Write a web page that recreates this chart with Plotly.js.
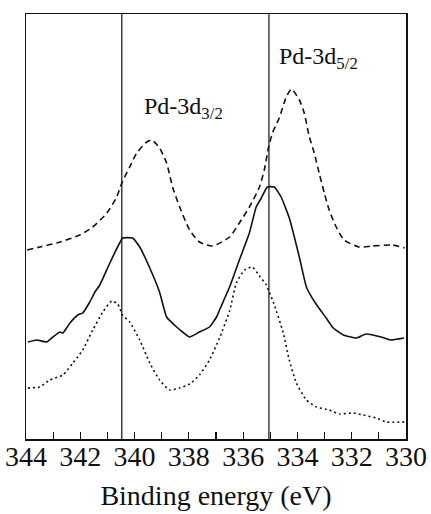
<!DOCTYPE html>
<html>
<head>
<meta charset="utf-8">
<script src="https://cdn.plot.ly/plotly-3.0.1.min.js"></script>
<style>html,body{margin:0;padding:0;background:#fff;}#chart{width:431px;height:514px;}</style>
</head>
<body>
<div id="chart"></div>
<script>
// Binding energy (eV) and intensity (arb. units)
const energyTop = [343.96,343.49,342.75,342.02,341.54,341.02,340.66,340.47,340.18,339.92,339.55,339.37,339.08,338.82,338.60,338.34,337.97,337.61,337.13,336.50,336.14,335.77,335.40,335.22,335.07,334.92,334.67,334.41,334.22,333.93,333.75,333.56,333.38,333.20,333.01,332.83,332.57,332.28,331.73,331.25,330.51,330.05];
const intensityTop = [189,192,197,204,212,226,242,256,272,286,297,299,291,276,252,232,209,197,193,202,216,232,252,269,291,306,321,342,350,339,326,302,286,266,246,229,212,199,192,193,194,191];

const energyMid = [343.93,343.60,343.24,343.01,342.75,342.64,342.38,342.09,341.91,341.65,341.46,341.28,340.91,340.55,340.44,340.07,339.81,339.44,339.08,338.82,338.45,338.23,337.97,337.61,337.24,336.98,336.87,336.50,336.14,335.77,335.52,335.33,335.11,334.85,334.60,334.30,333.93,333.67,333.34,332.94,332.68,332.31,331.83,331.47,330.92,330.58,330.07];
const intensityMid = [97,99,97,102,107,106,116,124,126,137,147,154,176,196,201,201,192,171,147,122,112,107,102,107,112,122,129,152,179,206,232,241,252,252,242,221,182,152,136,121,111,104,101,105,102,99,101];

const energyBot = [343.93,343.49,343.13,342.64,342.27,341.91,341.54,341.17,340.84,340.62,340.44,340.18,339.81,339.44,339.08,338.71,338.34,337.97,337.61,337.24,336.87,336.50,336.25,335.95,335.66,335.40,335.14,335.07,334.89,334.52,334.30,334.04,333.67,333.30,332.83,332.46,331.94,331.58,331.10,330.73,330.03];
const intensityBot = [51,52,59,64,76,89,109,127,138,135,124,117,99,76,59,49,51,55,64,79,101,128,156,169,172,163,154,149,137,106,79,56,39,32,29,25,26,24,21,17,17];

const referenceLines = [340.47, 335.05];
const tickValues = [344,342,340,338,336,334,332,330];
const peakLabels = ["Pd-3d<sub>5/2</sub>", "Pd-3d<sub>3/2</sub>"];
const peakLabelX = [334.74, 339.74];
const peakLabelY = [381, 331];

const serif = "'Liberation Serif'";

const traces = [
  {x: energyTop, y: intensityTop, mode: "lines", line: {color: "#111", width: 1.6, dash: "6px,4px", shape: "spline", smoothing: 0.6}, hoverinfo: "skip"},
  {x: energyMid, y: intensityMid, mode: "lines", line: {color: "#111", width: 1.6, shape: "spline", smoothing: 0.4}, hoverinfo: "skip"},
  {x: energyBot, y: intensityBot, mode: "lines", line: {color: "#111", width: 1.6, dash: "2px,3px", shape: "spline", smoothing: 0.5}, hoverinfo: "skip"}
];

const shapes = referenceLines.map(v => ({
  type: "line", xref: "x", yref: "paper", x0: v, x1: v, y0: 0, y1: 1,
  line: {color: "#111", width: 1.2}
}));

const annotations = peakLabels.map((t, i) => ({
  text: t, x: peakLabelX[i], y: peakLabelY[i], xref: "x", yref: "y",
  xanchor: "left", yanchor: "middle", showarrow: false,
  font: {family: serif, size: 24, color: "#111"}
}));

const layout = {
  width: 431, height: 514,
  margin: {l: 26, r: 25, t: 14, b: 75},
  paper_bgcolor: "#fff", plot_bgcolor: "#fff",
  showlegend: false,
  font: {family: serif, color: "#111"},
  xaxis: {
    range: [344, 330], tickvals: tickValues, ticks: "inside", ticklen: 7, tickwidth: 1.2, tickcolor: "#111",
    minor: {dtick: 1, ticks: "inside", ticklen: 7, tickwidth: 1.2, tickcolor: "#111"},
    showline: true, linecolor: "#111", linewidth: 1.5, mirror: true, showgrid: false, zeroline: false,
    ticklabelstandoff: -8,
    tickfont: {family: serif, size: 28, color: "#111"},
    title: {text: "Binding energy (eV)", font: {family: serif, size: 28, color: "#111"}, standoff: 14}
  },
  yaxis: {
    range: [0, 425], showticklabels: false, ticks: "", showgrid: false, zeroline: false,
    showline: true, linecolor: "#111", linewidth: 1.5, mirror: true
  },
  shapes: shapes,
  annotations: annotations
};

Plotly.newPlot("chart", traces, layout, {staticPlot: true, displayModeBar: false});
</script>
</body>
</html>
